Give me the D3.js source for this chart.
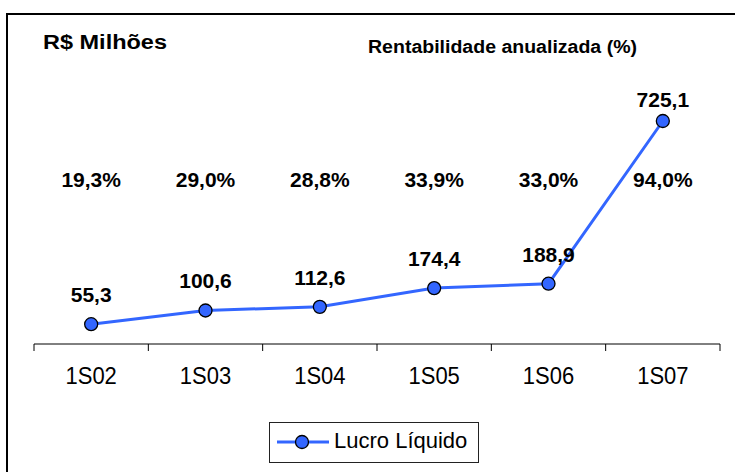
<!DOCTYPE html>
<html>
<head>
<meta charset="utf-8">
<script src="https://cdn.jsdelivr.net/npm/d3@7"></script>
<style>
  body { margin: 0; background: #fff; }
  text { font-family: "Liberation Sans", Arial, sans-serif; fill: #000; }
</style>
</head>
<body>
<div id="chart"></div>
<script>
// dados do gráfico
const periodos = ["1S02", "1S03", "1S04", "1S05", "1S06", "1S07"];
const lucroLiquido = [55.3, 100.6, 112.6, 174.4, 188.9, 725.1];
const rentabilidade = [19.3, 29.0, 28.8, 33.9, 33.0, 94.0];

const width = 735, height = 472;
const azul = "#3366ff";
const fmt = v => v.toFixed(1).replace(".", ",");

const svg = d3.select("#chart").append("svg")
    .attr("width", width)
    .attr("height", height);

// moldura (só topo e esquerda aparecem)
svg.append("rect")
    .attr("x", 7).attr("y", 14)
    .attr("width", 800).attr("height", 500)
    .attr("fill", "none")
    .attr("stroke", "#000")
    .attr("stroke-width", 2);

// escalas
const x = d3.scaleBand()
    .domain(periodos)
    .range([34, 720]);

const y = d3.scaleLinear()
    .domain([0, d3.max(lucroLiquido)])
    .range([341, 121]);

const axisY = 344;

// eixo x
const xAxis = svg.append("g")
    .attr("transform", `translate(0,${axisY})`);
xAxis.append("line")
    .attr("x1", x.range()[0]).attr("x2", x.range()[1])
    .attr("stroke", "#000").attr("stroke-width", 1);
const tickPos = periodos.map(p => x(p)).concat([x.range()[1]]);
xAxis.selectAll(".tick")
    .data(tickPos)
    .enter().append("line")
    .attr("x1", d => d).attr("x2", d => d)
    .attr("y1", 0).attr("y2", 7)
    .attr("stroke", "#000");
xAxis.selectAll(".lbl")
    .data(periodos)
    .enter().append("text")
    .attr("transform", d => `translate(${x(d) + x.bandwidth() / 2},40) scale(1,1.08)`)
    .attr("text-anchor", "middle")
    .style("font-size", "22px")
    .text(d => d);

// linha
const pts = periodos.map((p, i) => ({ p, v: lucroLiquido[i], r: rentabilidade[i] }));
const cx = d => x(d.p) + x.bandwidth() / 2;

svg.append("path")
    .datum(pts)
    .attr("fill", "none")
    .attr("stroke", azul)
    .attr("stroke-width", 3)
    .attr("d", d3.line().x(cx).y(d => y(d.v)));

svg.selectAll(".pt")
    .data(pts)
    .enter().append("circle")
    .attr("cx", cx)
    .attr("cy", d => y(d.v))
    .attr("r", 6.5)
    .attr("fill", azul)
    .attr("stroke", "#000")
    .attr("stroke-width", 1.3);

// rótulos de valor
svg.selectAll(".val")
    .data(pts)
    .enter().append("text")
    .attr("x", cx)
    .attr("y", d => Math.max(107, y(d.v) - 22))
    .attr("text-anchor", "middle")
    .style("font-size", "21px")
    .style("font-weight", "bold")
    .text(d => fmt(d.v));

// rentabilidade
svg.selectAll(".rent")
    .data(pts)
    .enter().append("text")
    .attr("x", cx)
    .attr("y", 187)
    .attr("text-anchor", "middle")
    .style("font-size", "21px")
    .style("font-weight", "bold")
    .text(d => fmt(d.r) + "%");

// títulos
svg.append("text")
    .attr("x", 43).attr("y", 49)
    .attr("textLength", 124)
    .attr("lengthAdjust", "spacingAndGlyphs")
    .style("font-size", "20px")
    .style("font-weight", "bold")
    .text("R$ Milhões");

svg.append("text")
    .attr("x", 368).attr("y", 53)
    .attr("textLength", 269)
    .attr("lengthAdjust", "spacingAndGlyphs")
    .style("font-size", "18px")
    .style("font-weight", "bold")
    .text("Rentabilidade anualizada (%)");

// legenda
const leg = svg.append("g");
leg.append("rect")
    .attr("x", 269.5).attr("y", 422.5)
    .attr("width", 209).attr("height", 40)
    .attr("fill", "#fff")
    .attr("stroke", "#222")
    .attr("stroke-width", 1);
leg.append("line")
    .attr("x1", 277).attr("x2", 329)
    .attr("y1", 442).attr("y2", 442)
    .attr("stroke", azul).attr("stroke-width", 3);
leg.append("circle")
    .attr("cx", 302).attr("cy", 442).attr("r", 6.5)
    .attr("fill", azul).attr("stroke", "#000").attr("stroke-width", 1.3);
leg.append("text")
    .attr("x", 334).attr("y", 448)
    .style("font-size", "22px")
    .text("Lucro Líquido");
</script>
</body>
</html>
